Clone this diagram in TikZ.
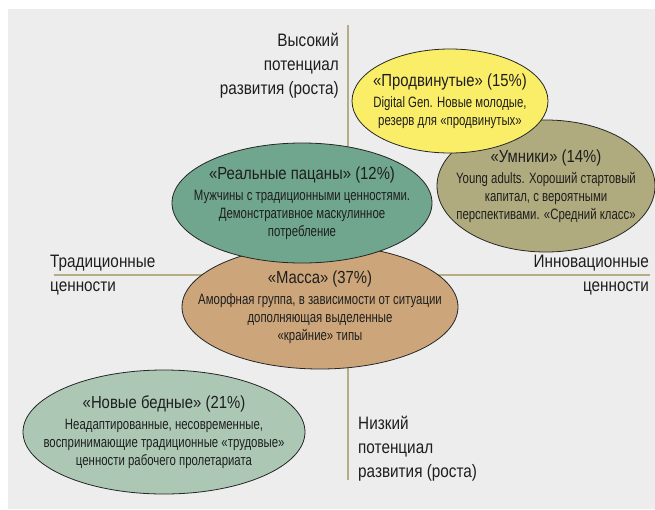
\documentclass[tikz,border=0pt]{standalone}
\usepackage{fontspec}
\setmainfont{Liberation Sans}[FakeStretch=0.85]
\newfontfamily\narrowfont{Liberation Sans}[FakeStretch=0.76]
\usetikzlibrary{shapes.geometric}
\definecolor{bgcol}{RGB}{236,237,236}
\definecolor{axiscol}{RGB}{182,173,133}
\definecolor{inkcol}{RGB}{30,30,30}
\definecolor{prodcol}{RGB}{250,238,104}
\definecolor{umncol}{RGB}{176,171,126}
\definecolor{pacancol}{RGB}{111,166,141}
\definecolor{massacol}{RGB}{204,166,122}
\definecolor{bednycol}{RGB}{172,200,180}
\newcommand{\grouptitle}[1]{{\rmfamily\fontsize{17.5}{18}\selectfont #1}}
\begin{document}
\begin{tikzpicture}[x=1pt,y=-1pt,
axis/.style={draw=axiscol,line width=2.2pt},
group/.style={ellipse,draw=black!85,line width=0.8pt,inner sep=0pt},
grouptext/.style={inner sep=0pt,align=center,text=inkcol,font=\narrowfont\fontsize{15}{18}\selectfont},
axislabel/.style={inner sep=0pt,text=inkcol,font=\fontsize{18}{24}\selectfont}
]
\fill[bgcol] (8,9) rectangle (655,509);
\useasboundingbox (0,0) rectangle (655,509);
% axes
\coordinate (high) at (348,25);
\coordinate (low) at (348,480);
\coordinate (trad) at (54,275);
\coordinate (innov) at (650,275);
\draw[axis] (high) -- (low);
\draw[axis] (trad) -- (innov);
% axis labels
\node[axislabel,anchor=north east,align=right] (high label) at (339,33) {Высокий\\ потенциал\\ развития (роста)};
\node[axislabel,anchor=north west,align=left] (low label) at (358,416) {Низкий\\ потенциал\\ развития (роста)};
\node[axislabel,anchor=north west,align=left] (trad label) at (50,255) {Традиционные\\ ценности};
\node[axislabel,anchor=north east,align=right] (innov label) at (649,255) {Инновационные\\ ценности};
% groups
\node[group,fill=umncol,minimum width=218pt,minimum height=132pt] (umniki) at (546,186) {};
\node[grouptext] (umniki text) at (umniki) {\grouptitle{«Умники» (14\%)}\\[3pt] Young adults. Хороший стартовый\\ капитал, с вероятными\\ перспективами. «Средний класс»};
\node[group,fill=prodcol,minimum width=196pt,minimum height=104pt] (prod) at (450,101) {};
\node[grouptext] (prod text) at (prod) {\grouptitle{«Продвинутые» (15\%)}\\[3pt] Digital Gen. Новые молодые,\\ резерв для «продвинутых»};
\node[group,fill=massacol,minimum width=276pt,minimum height=124pt] (massa) at (320,307) {};
\node[group,fill=pacancol,minimum width=260pt,minimum height=120pt] (pacany) at (302,203) {};
\node[grouptext] (pacany text) at (pacany) {\grouptitle{«Реальные пацаны» (12\%)}\\[3pt] Мужчины с традиционными ценностями.\\ Демонстративное маскулинное\\ потребление};
\node[grouptext] (massa text) at (massa) {\grouptitle{«Масса» (37\%)}\\[3pt] Аморфная группа, в зависимости от ситуации\\ дополняющая выделенные\\ «крайние» типы};
\node[group,fill=bednycol,minimum width=282pt,minimum height=124pt] (bednye) at (164,432) {};
\node[grouptext] (bednye text) at (bednye) {\grouptitle{«Новые бедные» (21\%)}\\[3pt] Неадаптированные, несовременные,\\ воспринимающие традиционные «трудовые»\\ ценности рабочего пролетариата};
\end{tikzpicture}
\end{document}
